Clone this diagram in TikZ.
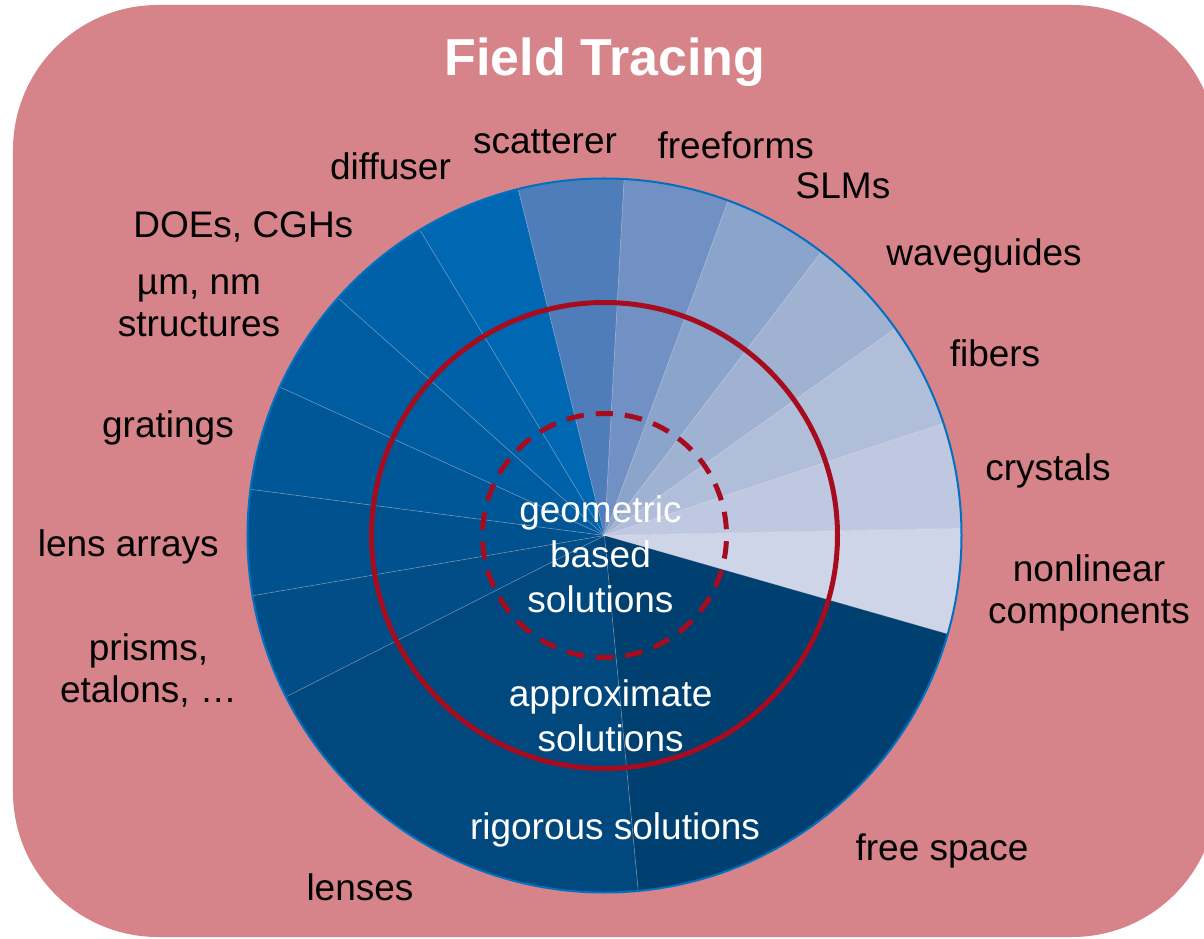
\documentclass[tikz,border=0pt]{standalone}
\usepackage{fontspec}
\setmainfont{Liberation Sans}

\definecolor{bgpink}{RGB}{214,131,137}
\definecolor{ringred}{RGB}{166,12,30}
\definecolor{rimblue}{RGB}{0,112,192}
\definecolor{nonlin}{RGB}{206,213,232}
\definecolor{cryst}{RGB}{190,201,225}
\definecolor{fiber}{RGB}{176,190,218}
\definecolor{wguide}{RGB}{160,178,210}
\definecolor{slm}{RGB}{138,164,204}
\definecolor{freef}{RGB}{113,145,196}
\definecolor{scatt}{RGB}{78,125,185}
\definecolor{diffu}{RGB}{0,103,178}
\definecolor{doe}{RGB}{0,97,168}
\definecolor{micro}{RGB}{0,92,160}
\definecolor{grat}{RGB}{0,87,152}
\definecolor{larray}{RGB}{0,82,143}
\definecolor{prism}{RGB}{0,77,135}
\definecolor{lens}{RGB}{0,72,125}
\definecolor{fspace}{RGB}{0,64,112}

\begin{document}
\begin{tikzpicture}[
    x=1pt, y=1pt,
    heading/.style={
        text=white,
        font=\fontsize{52}{60}\selectfont\bfseries,
        inner sep=0pt,
        anchor=base
    },
    tag/.style={
        text=black,
        font=\fontsize{37}{42}\selectfont,
        align=center,
        inner sep=0pt,
        anchor=base
    },
    solution/.style={
        tag,
        text=white,
        font=\fontsize{37}{45}\selectfont
    },
    divider/.style={
        white,
        opacity=0.35,
        line width=0.6pt
    },
    ring/.style={
        ringred,
        line width=5pt
    }
]
\useasboundingbox (-604.5,-403.5) rectangle (599.5,535.5);

% Background
\fill[bgpink, rounded corners=145pt] (-591.5,-401.5) rectangle (612.5,530.5);

% Slices
\foreach \from/\to/\col in {
    -16/1.143/nonlin, 1.143/18.286/cryst, 18.286/35.429/fiber,
    35.429/52.571/wguide, 52.571/69.714/slm, 69.714/86.857/freef,
    86.857/104/scatt, 104/121.143/diffu, 121.143/138.286/doe,
    138.286/155.429/micro, 155.429/172.571/grat, 172.571/189.714/larray,
    189.714/206.857/prism, 206.857/275.429/lens, 275.429/344/fspace} {
  \fill[\col] (0,0) -- (\from:357) arc[start angle=\from, end angle=\to, radius=357] -- cycle;
}
\foreach \a in {-16,1.143,18.286,35.429,52.571,69.714,86.857,104,121.143,
    138.286,155.429,172.571,189.714,206.857,275.429}
  \draw[divider] (0,0) -- (\a:357);
\draw[rimblue, line width=2pt] (0,0) circle[radius=357];

% Rings
\draw[ring] (0,0) circle[radius=233];
\draw[ring, dash pattern=on 17.5pt off 12pt, dash phase=8.75pt]
    (90:122) arc[start angle=90, end angle=450, radius=122];

% Nodes (multi-line ones sit on their last line)
\node (title)     [heading] at (0.5,459.8) {Field Tracing};
\node (scatterer) [tag] at (-59.5,382.2) {scatterer};
\node (freeforms) [tag] at (131.2,376.5) {freeforms};
\node (diffuser)  [tag] at (-214,356.2) {diffuser};
\node (slms)      [tag] at (238.5,337.2) {SLMs};
\node (does)      [tag] at (-361.2,298.1) {DOEs, CGHs};
\node (waveguides)[tag] at (379.5,269.8) {waveguides};
\node (micro)     [tag] at (-405.5,199.2) {µm, nm\\structures};
\node (fibers)    [tag] at (390.5,168.8) {fibers};
\node (gratings)  [tag] at (-436.5,97.6) {gratings};
\node (crystals)  [tag] at (443.5,54.5) {crystals};
\node (arrays)    [tag] at (-476.2,-20.9) {lens arrays};
\node (nonlinear) [tag] at (484.5,-87.8) {nonlinear\\components};
\node (prisms)    [tag] at (-456,-166.5) {prisms,\\etalons, …};
\node (freespace) [tag] at (337.5,-324.5) {free space};
\node (lenses)    [tag] at (-244.5,-364.5) {lenses};
\node (geometric) [solution] at (-4,-76.8) {geometric\\based\\solutions};
\node (approx)    [solution] at (6.1,-215.5) {approximate\\solutions};
\node (rigorous)  [solution] at (10.5,-303.8) {rigorous solutions};

\end{tikzpicture}
\end{document}
